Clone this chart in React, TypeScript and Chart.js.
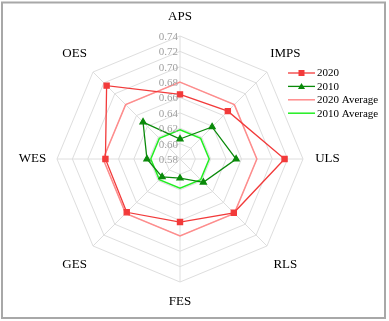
import React, { useEffect, useRef } from "react";
import { Chart, registerables } from "chart.js";

Chart.register(...registerables);

const categories = ["APS", "IMPS", "ULS", "RLS", "FES", "GES", "WES", "OES"];
const values2020 = [0.664, 0.668, 0.716, 0.679, 0.662, 0.678, 0.677, 0.715];
const values2010 = [0.606, 0.639, 0.653, 0.623, 0.605, 0.613, 0.623, 0.648];
const avg2020 = [0.68, 0.68, 0.68, 0.68, 0.68, 0.68, 0.68, 0.68];
const avg2010 = [0.618, 0.618, 0.618, 0.618, 0.618, 0.618, 0.618, 0.618];
const seriesLabels = ["2020", "2010", "2020 Average", "2010 Average"];
const scaleMin = 0.58;
const scaleMax = 0.74;
const scaleStep = 0.02;

const FONT = "'Liberation Serif', 'Times New Roman', serif";

const RED = "#f23a3a";
const GREEN = "#0a8a0a";
const LIGHT_RED = "#ff8c8c";
const LIGHT_GREEN = "#22ee22";

const framePlugin = {
  id: "frame",
  beforeDraw(chart: any) {
    const ctx = chart.ctx;
    ctx.save();
    ctx.fillStyle = "#ffffff";
    ctx.fillRect(0, 0, chart.width, chart.height);
    ctx.strokeStyle = "#a8a8a8";
    ctx.lineWidth = 2;
    ctx.strokeRect(2, 2.5, 383, 315.5);
    ctx.restore();
  },
};

const labelsPlugin = {
  id: "customLabels",
  afterDatasetsDraw(chart: any) {
    const ctx = chart.ctx;
    const scale = chart.scales.r;
    const R = scale.drawingArea;
    ctx.save();
    // tick labels
    ctx.font = `11px ${FONT}`;
    ctx.fillStyle = "#a0a0a0";
    ctx.textAlign = "right";
    ctx.textBaseline = "middle";
    scale.ticks.forEach((t: any) => {
      const d = scale.getDistanceFromCenterForValue(t.value);
      ctx.fillText(t.value.toFixed(2), scale.xCenter - 2, scale.yCenter - d + 1);
    });
    // point labels
    ctx.font = `13px ${FONT}`;
    ctx.fillStyle = "#000000";
    ctx.textAlign = "center";
    chart.data.labels.forEach((lab: string, i: number) => {
      const off = i % 2 === 1 ? 26 : i % 4 === 0 ? 19.5 : 24.5;
      const p = scale.getPointPosition(i, R + off);
      ctx.fillText(lab, p.x, p.y);
    });
    ctx.restore();
  },
  afterDraw(chart: any) {
    const ctx = chart.ctx;
    ctx.save();
    ctx.font = `11px ${FONT}`;
    ctx.textBaseline = "middle";
    ctx.textAlign = "left";
    const x0 = 288;
    const x1 = 315;
    const y0 = 73;
    const dy = 13.4;
    chart.data.datasets.forEach((ds: any, i: number) => {
      const y = y0 + i * dy;
      ctx.strokeStyle = ds.borderColor;
      ctx.lineWidth = ds.borderWidth;
      ctx.beginPath();
      ctx.moveTo(x0, y);
      ctx.lineTo(x1, y);
      ctx.stroke();
      const cx = (x0 + x1) / 2;
      ctx.fillStyle = ds.pointBackgroundColor;
      if (ds.pointStyle === "rect") {
        ctx.fillRect(cx - 3, y - 3, 6, 6);
      } else if (ds.pointStyle === "triangle") {
        ctx.beginPath();
        ctx.moveTo(cx, y - 3.5);
        ctx.lineTo(cx + 3.5, y + 2.5);
        ctx.lineTo(cx - 3.5, y + 2.5);
        ctx.closePath();
        ctx.fill();
      }
      ctx.fillStyle = "#000000";
      ctx.fillText(ds.label, x1 + 2, y + 0.5);
    });
    ctx.restore();
  },
};

export default function App() {
  const ref = useRef<HTMLCanvasElement | null>(null);
  useEffect(() => {
    if (!ref.current) return;
    const chart = new Chart(ref.current, {
      type: "radar",
      data: {
        labels: categories,
        datasets: [
          {
            label: seriesLabels[0],
            data: values2020,
            borderColor: RED,
            backgroundColor: RED,
            pointBackgroundColor: RED,
            pointBorderColor: RED,
            pointStyle: "rect",
            pointRadius: 3.6,
            borderWidth: 1.3,
            fill: false,
          },
          {
            label: seriesLabels[1],
            data: values2010,
            borderColor: GREEN,
            backgroundColor: GREEN,
            pointBackgroundColor: GREEN,
            pointBorderColor: GREEN,
            pointStyle: "triangle",
            pointRadius: 3.5,
            borderWidth: 1.3,
            fill: false,
          },
          {
            label: seriesLabels[2],
            data: avg2020,
            borderColor: LIGHT_RED,
            backgroundColor: LIGHT_RED,
            pointBackgroundColor: LIGHT_RED,
            pointStyle: false,
            pointRadius: 0,
            borderWidth: 1.5,
            fill: false,
          },
          {
            label: seriesLabels[3],
            data: avg2010,
            borderColor: LIGHT_GREEN,
            backgroundColor: LIGHT_GREEN,
            pointBackgroundColor: LIGHT_GREEN,
            pointStyle: false,
            pointRadius: 0,
            borderWidth: 1.5,
            fill: false,
          },
        ],
      },
      options: {
        responsive: false,
        animation: false,
        layout: { padding: { left: 57, right: 86, top: 36, bottom: 39 } },
        elements: { line: { tension: 0 } },
        plugins: { legend: { display: false }, tooltip: { enabled: false } },
        scales: {
          r: {
            min: scaleMin,
            max: scaleMax,
            ticks: { stepSize: scaleStep, display: false },
            grid: { color: "#dedede", lineWidth: 1 },
            angleLines: { color: "#dedede", lineWidth: 1 },
            pointLabels: { display: false },
          },
        },
      },
      plugins: [framePlugin, labelsPlugin],
    } as any);
    return () => chart.destroy();
  }, []);
  return (
    <div style={{ position: "fixed", left: 0, top: 0, width: 389, height: 321 }}>
      <canvas ref={ref} width={389} height={321} style={{ width: 389, height: 321 }} />
    </div>
  );
}
